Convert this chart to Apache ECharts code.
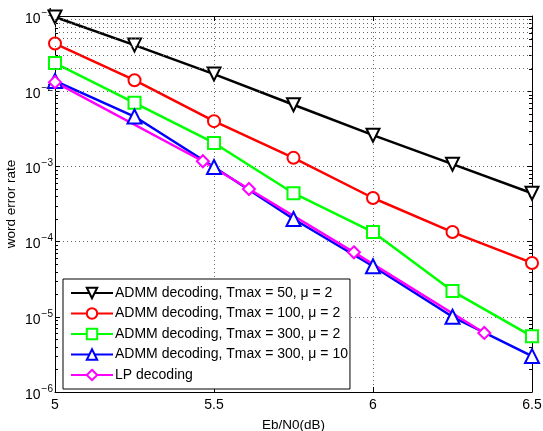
<!DOCTYPE html>
<html><head><meta charset="utf-8">
<script src="https://cdn.jsdelivr.net/npm/echarts@6/dist/echarts.min.js"></script>
<style>html,body{margin:0;padding:0;background:#fff}#c{width:543px;height:431px}</style>
</head><body><div id="c"></div>
<script>
const xs = [5, 5.25, 5.5, 5.75, 6, 6.25, 6.5];
const tmax50mu2 = [0.097, 0.041, 0.0169, 0.0066, 0.0026, 0.00107, 0.00044];
const tmax100mu2 = [0.043, 0.014, 0.004, 0.0013, 0.00038, 0.000134, 0.000052];
const tmax300mu2 = [0.0237, 0.007, 0.00205, 0.00044, 0.000134, 0.000022, 0.0000055];
const tmax300mu10 = [0.0137, 0.0046, 0.00098, 0.0002, 0.000047, 0.00001, 0.000003];
const lpX = [5, 5.465, 5.61, 5.94, 6.35];
const lpY = [0.0132, 0.00117, 0.0005, 0.000072, 0.0000061];
const seriesNames = [
  'ADMM decoding, Tmax = 50, μ = 2',
  'ADMM decoding, Tmax = 100, μ = 2',
  'ADMM decoding, Tmax = 300, μ = 2',
  'ADMM decoding, Tmax = 300, μ = 10',
  'LP decoding'
];

// minor grid values 2..9 x 10^k
const minorVals = [];
for (let e = -6; e < -1; e++) for (let m = 2; m <= 9; m++) minorVals.push(m * Math.pow(10, e));

const font = "'Liberation Sans', Arial, Helvetica, sans-serif";
const pair = (x, y) => x.map((v, i) => [v, y[i]]);

const chart = echarts.init(document.getElementById('c'), null, {renderer: 'canvas'});
const gridLine = {show: true, lineStyle: {color: '#666', type: [1, 3], width: 1}};

function mk(name, data, color, symbol, size, rot, extra) {
  return Object.assign({
    name, type: 'line', data, symbol, symbolSize: size, symbolRotate: rot || 0,
    showSymbol: true, animation: false,
    lineStyle: {color, width: 2.5},
    itemStyle: {color, borderColor: color, borderWidth: 2},
    z: 3
  }, extra || {});
}

chart.setOption({
  animation: false,
  textStyle: {fontFamily: font},
  grid: {left: 55, right: 11, top: 16, bottom: 39, containLabel: false, outerBoundsMode: 'none'},
  legend: {
    orient: 'vertical', left: 63, top: 279,
    itemWidth: 42, itemHeight: 13, itemGap: 4.5,
    padding: [6, 2, 6, 7],
    backgroundColor: '#fff', borderColor: '#000', borderWidth: 1,
    textStyle: {fontFamily: font, fontSize: 14, lineHeight: 16, color: '#000', padding: [0, 0, 0, -3]},
    data: seriesNames
  },
  xAxis: [{
    type: 'value', min: 5, max: 6.5, interval: 0.5,
    name: 'Eb/N0(dB)', nameLocation: 'middle', nameGap: 26, nameMoveOverlap: false,
    nameTextStyle: {fontFamily: font, fontSize: 13.5, color: '#000'},
    axisLine: {show: true, lineStyle: {color: '#000', width: 1}},
    axisTick: {show: true, inside: true, length: 5, lineStyle: {color: '#000'}},
    axisLabel: {fontFamily: font, fontSize: 14, color: '#000', margin: 6,
      formatter: v => String(v)},
    splitLine: gridLine
  }, {
    type: 'value', min: 5, max: 6.5, interval: 0.5, position: 'top',
    axisLine: {show: true, lineStyle: {color: '#000', width: 1}},
    axisTick: {show: true, inside: true, length: 5, lineStyle: {color: '#000'}},
    axisLabel: {show: false}, splitLine: {show: false}
  }],
  yAxis: [{
    type: 'log', logBase: 10, min: 1e-6, max: 1e-1,
    name: 'word error rate', nameLocation: 'middle', nameGap: 37, nameRotate: 90,
    nameMoveOverlap: false,
    nameTextStyle: {fontFamily: font, fontSize: 13.5, color: '#000'},
    axisLine: {show: true, lineStyle: {color: '#000', width: 1}},
    axisTick: {show: true, inside: true, length: 5, lineStyle: {color: '#000'}},
    axisLabel: {
      margin: 2, color: '#000',
      formatter: v => {
        const e = Math.round(Math.log10(v));
        return '{b|10}{s|\u2212' + (-e) + '}';
      },
      rich: {
        b: {fontFamily: font, fontSize: 14, color: '#000', padding: [6, 0, 0, 0]},
        s: {fontFamily: font, fontSize: 10, color: '#000', padding: [0, 0, 6, 1]}
      }
    },
    splitLine: gridLine
  }, {
    type: 'log', logBase: 10, min: 1e-6, max: 1e-1, position: 'right',
    axisLine: {show: true, lineStyle: {color: '#000', width: 1}},
    axisTick: {show: true, inside: true, length: 5, lineStyle: {color: '#000'}},
    axisLabel: {show: false}, splitLine: {show: false}
  }],
  series: [
    mk(seriesNames[0], pair(xs, tmax50mu2), '#000000', 'emptyTriangle', 13, 180, {
      markLine: {
        silent: true, symbol: 'none', animation: false,
        label: {show: false},
        lineStyle: {color: '#666', type: [1, 3], width: 1},
        data: minorVals.map(v => ({yAxis: v}))
      }
    }),
    mk(seriesNames[1], pair(xs, tmax100mu2), '#ff0000', 'emptyCircle', 12),
    mk(seriesNames[2], pair(xs, tmax300mu2), '#00ff00', 'emptyRect', 12),
    mk(seriesNames[3], pair(xs, tmax300mu10), '#0000ff', 'emptyTriangle', 14),
    mk(seriesNames[4], pair(lpX, lpY), '#ff00ff', 'emptyDiamond', 12),
    {
      type: 'custom', silent: true, animation: false, z: 1,
      data: minorVals.map(v => [5, v]),
      renderItem: (params, api) => {
        const cs = params.coordSys;
        const y = Math.round(api.coord([5, api.value(1)])[1]) + 0.5;
        return {type: 'group', children: [
          {type: 'line', shape: {x1: cs.x, y1: y, x2: cs.x + 3, y2: y}, style: {stroke: '#000', lineWidth: 1}},
          {type: 'line', shape: {x1: cs.x + cs.width - 3, y1: y, x2: cs.x + cs.width, y2: y}, style: {stroke: '#000', lineWidth: 1}}
        ]};
      }
    }
  ]
});
</script></body></html>
